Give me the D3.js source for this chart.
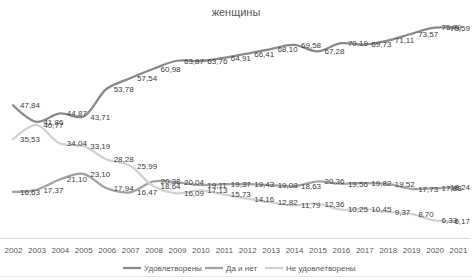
<!DOCTYPE html>
<html>
<head>
<meta charset="utf-8">
<script src="https://cdn.jsdelivr.net/npm/d3@7"></script>
<style>
  body { margin: 0; background: #fff; }
  svg { display: block; font-family: "Liberation Sans", Arial, sans-serif; }
</style>
</head>
<body>
<svg id="chart"></svg>
<script>
// размеры
const width = 472;
const height = 280;

// данные
const years = ['2002', '2003', '2004', '2005', '2006', '2007', '2008', '2009', '2010', '2011',
               '2012', '2013', '2014', '2015', '2016', '2017', '2018', '2019', '2020', '2021'];
const satisfied = [47.84, 41.86, 44.87, 43.71, 53.78, 57.54, 60.98, 63.87, 63.76, 64.91,
                   66.41, 68.10, 69.58, 67.28, 70.19, 69.73, 71.11, 73.57, 75.79, 75.59];
const neutral = [16.63, 17.37, 21.10, 23.10, 17.94, 16.47, 20.38, 20.04, 19.11, 19.37,
                 19.43, 19.08, 18.63, 20.36, 19.56, 19.82, 19.52, 17.73, 17.88, 18.24];
const unsatisfied = [35.53, 40.77, 34.04, 33.19, 28.28, 25.99, 18.64, 16.09, 17.13, 15.73,
                     14.16, 12.82, 11.79, 12.36, 10.25, 10.45, 9.37, 8.70, 6.33, 6.17];
const seriesNames = ['Удовлетворены', 'Да и нет', 'Не удовлетворены'];
const seriesColors = ['#8a8a8a', '#a3a3a3', '#d2d2d2'];

const series = [satisfied, neutral, unsatisfied].map((values, i) => ({
    name: seriesNames[i],
    color: seriesColors[i],
    points: values.map((v, j) => ({year: years[j], value: v}))
}));

const svg = d3.select('#chart').attr('width', width).attr('height', height);

// шкалы
const x = d3.scalePoint().domain(years).range([13, 458]);
const y = d3.scaleLinear().domain([0, 80]).range([238, 16]);

// заголовок
svg.append('text')
    .attr('x', 236).attr('y', 16)
    .attr('text-anchor', 'middle')
    .attr('font-size', 11)
    .attr('fill', '#595959')
    .text('женщины');

// ось X
const xAxis = svg.append('g')
    .attr('transform', `translate(0, ${y(0)})`)
    .call(d3.axisBottom(x).tickSize(0).tickPadding(9));
xAxis.select('.domain').attr('stroke', '#d9d9d9').attr('d', `M0,0.5H${width - 2}`);
xAxis.selectAll('text').attr('font-size', 8).attr('fill', '#595959')
    .attr('font-family', '"Liberation Sans", Arial, sans-serif');

// линии
const line = d3.line()
    .x(d => x(d.year))
    .y(d => y(d.value))
    .curve(d3.curveCatmullRom.alpha(0.5));

svg.selectAll('.series').data(series).enter()
    .append('path')
        .attr('class', 'series')
        .attr('fill', 'none')
        .attr('stroke', d => d.color)
        .attr('stroke-width', 2.25)
        .attr('stroke-linecap', 'round')
        .attr('d', d => line(d.points));

// подписи данных (справа от точки, но не за краем области)
const rightEdge = 470;
series.forEach(s => {
    svg.append('g').selectAll('text').data(s.points).enter()
        .append('text')
            .attr('x', d => x(d.year) + 7)
            .attr('y', d => y(d.value))
            .attr('dy', '0.35em')
            .attr('font-size', 8)
            .attr('fill', '#404040')
            .text(d => d.value.toFixed(2).replace('.', ','))
            .each(function(d) {
                const w = this.getComputedTextLength();
                if (x(d.year) + 7 + w > rightEdge) d3.select(this).attr('x', rightEdge - w);
            });
});

// легенда
const legendX = [123, 205, 265];
const legend = svg.append('g').selectAll('g').data(series).enter()
    .append('g')
        .attr('transform', (d, i) => `translate(${legendX[i]}, 268)`);
legend.append('line')
    .attr('x1', 0).attr('x2', 18)
    .attr('stroke', d => d.color)
    .attr('stroke-width', 2.25);
legend.append('text')
    .attr('x', 21).attr('dy', '0.35em')
    .attr('font-size', 8)
    .attr('fill', '#595959')
    .text(d => d.name);

// нижняя граница области диаграммы
svg.append('line')
    .attr('x1', 0).attr('x2', width)
    .attr('y1', 276.5).attr('y2', 276.5)
    .attr('stroke', '#e6e6e6');
</script>
</body>
</html>
